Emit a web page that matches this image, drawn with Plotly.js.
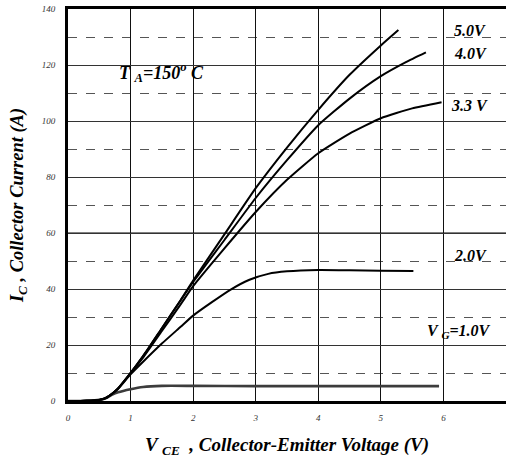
<!DOCTYPE html>
<html>
<head>
<meta charset="utf-8">
<script src="https://cdn.plot.ly/plotly-3.0.1.min.js"></script>
<style>html,body{margin:0;padding:0;overflow:hidden;background:#fff}</style>
</head>
<body>
<div id="chart" style="width:506px;height:462px"></div>
<script>
// Data (V_CE in volts, I_C in amperes)
const vce50 = [0, 0.3, 0.5, 0.6, 0.7, 0.8, 1.0, 1.2, 1.5, 1.8, 2.0, 2.5, 3.0, 3.5, 4.0, 4.5, 5.0, 5.28];
const ic50  = [0, 0.1, 0.4, 1.0, 2.5, 4.5, 10, 16, 26, 36, 43, 59.5, 76, 90.5, 104, 116.5, 127, 132.5];

const vce40 = [0, 0.3, 0.5, 0.6, 0.7, 0.8, 1.0, 1.2, 1.5, 1.8, 2.0, 2.5, 3.0, 3.5, 4.0, 4.5, 5.0, 5.4, 5.72];
const ic40  = [0, 0.1, 0.4, 1.0, 2.5, 4.5, 10, 16, 26, 36, 42.5, 57.5, 72.5, 86, 98.5, 108, 116, 121, 124.5];

const vce33 = [0, 0.3, 0.5, 0.6, 0.7, 0.8, 1.0, 1.2, 1.5, 1.8, 2.0, 2.5, 3.0, 3.5, 4.0, 4.5, 5.0, 5.5, 5.97];
const ic33  = [0, 0.1, 0.4, 1.0, 2.5, 4.5, 10, 15.5, 25, 34.5, 41, 54.5, 67.5, 79, 88.5, 95.5, 101, 104.5, 106.7];

const vce20 = [0, 0.3, 0.5, 0.6, 0.7, 0.8, 1.0, 1.2, 1.5, 1.8, 2.0, 2.3, 2.6, 2.9, 3.2, 3.5, 4.0, 4.5, 5.0, 5.52];
const ic20  = [0, 0.1, 0.4, 1.0, 2.5, 4.3, 9.5, 14, 20.5, 26.5, 30.5, 35.3, 39.8, 43.3, 45.4, 46.3, 46.8, 46.7, 46.5, 46.4];

const vce10 = [0, 0.3, 0.5, 0.6, 0.7, 0.8, 1.0, 1.2, 1.5, 2.0, 3.0, 4.0, 5.0, 5.93];
const ic10  = [0, 0.1, 0.4, 1.0, 2.2, 3.1, 4.2, 5.0, 5.4, 5.4, 5.3, 5.3, 5.3, 5.3];

const xTicks = [0, 1, 2, 3, 4, 5, 6, 7];
const yTicks = [0, 20, 40, 60, 80, 100, 120, 140];

const serif = "'Liberation Serif', 'Times New Roman', Times, serif";
function curve(x, y, color, width) {
  return {x: x, y: y, type: 'scatter', mode: 'lines',
          line: {color: color, width: width, shape: 'spline', smoothing: 0.5},
          hoverinfo: 'skip', showlegend: false};
}
const traces = [
  curve(vce10, ic10, '#3c3c3c', 2.6),
  curve(vce20, ic20, '#000', 2),
  curve(vce33, ic33, '#000', 2),
  curve(vce40, ic40, '#000', 2),
  curve(vce50, ic50, '#000', 2)
];

const labFont = {family: serif, size: 16, color: '#000', weight: 'bold', style: 'italic'};
function lab(x, y, t, anchor, size) {
  const f = Object.assign({}, labFont);
  if (size) f.size = size;
  return {x: x, y: y, xref: 'x', yref: 'y', text: t, showarrow: false,
          xanchor: anchor || 'left', yanchor: 'middle', font: f};
}

const layout = {
  width: 506, height: 462,
  margin: {l: 68, r: 0, t: 9, b: 61},
  paper_bgcolor: '#fff', plot_bgcolor: '#fff',
  font: {family: serif},
  showlegend: false,
  xaxis: {
    range: [0, 7], tickvals: xTicks, ticktext: xTicks.map(String),
    showgrid: true, gridcolor: '#111', gridwidth: 1,
    zeroline: false, showline: true, linecolor: '#000', linewidth: 3, mirror: true,
    ticks: '', ticklabelstandoff: 6,
    tickfont: {family: serif, size: 9, color: '#333', style: 'italic'},
    title: {text: 'V <sub>CE</sub>  , Collector-Emitter Voltage (V)', standoff: 16,
            font: {family: serif, size: 19, color: '#000', weight: 'bold', style: 'italic'}},
    fixedrange: true
  },
  yaxis: {
    range: [0, 140], tickvals: yTicks, ticktext: yTicks.map(String),
    showgrid: true, gridcolor: '#333', gridwidth: 1,
    minor: {dtick: 10, tick0: 0, showgrid: true, gridcolor: '#555', gridwidth: 1, griddash: 'dash', ticks: ''},
    zeroline: false, showline: true, linecolor: '#000', linewidth: 3, mirror: false,
    ticks: '', ticklabelstandoff: 8,
    tickfont: {family: serif, size: 9, color: '#333', style: 'italic'},
    title: {text: 'I<sub>C</sub> , Collector Current (A)', standoff: 14,
            font: {family: serif, size: 18.5, color: '#000', weight: 'bold', style: 'italic'}},
    fixedrange: true
  },
  shapes: [
    {type: 'line', xref: 'paper', yref: 'y', x0: 0, x1: 1, y0: 60, y1: 60,
     line: {color: '#808080', width: 2}, layer: 'between'}
  ],
  annotations: [
    lab(1.49, 117.5, 'T <sub>A</sub>=150<sup>o</sup> C', 'center', 18),
    lab(6.13, 132.5, '5.0V'),
    lab(6.13, 124.2, '4.0V'),
    lab(6.09, 105.7, '3.3 V'),
    lab(6.13, 52.1, '2.0V'),
    lab(5.71, 24.8, 'V <sub>G</sub>=1.0V')
  ]
};

Plotly.newPlot('chart', traces, layout, {staticPlot: true, displayModeBar: false});
</script>
</body>
</html>
